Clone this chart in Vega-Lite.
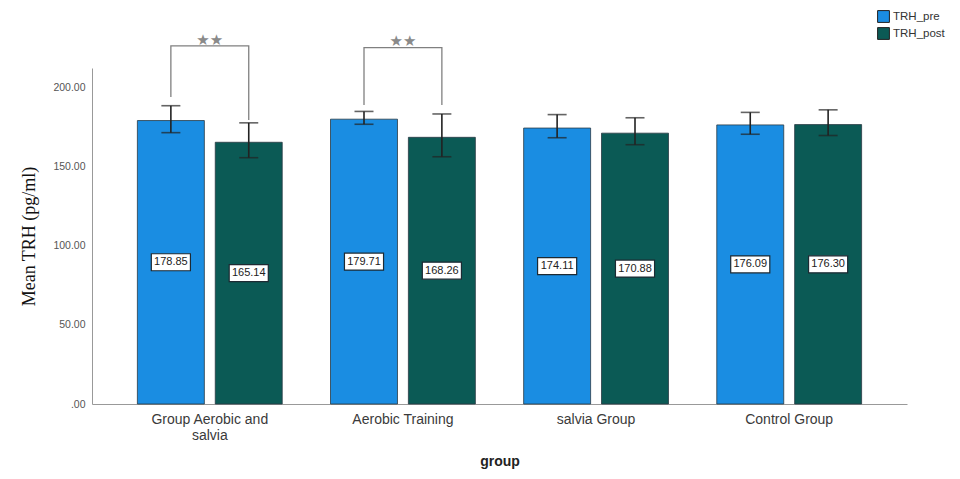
{
  "$schema": "https://vega.github.io/schema/vega-lite/v6.json",
  "width": 815,
  "height": 336,
  "autosize": "none",
  "padding": {"left": 92, "top": 68, "right": 53, "bottom": 75},
  "background": "white",
  "config": {"view": {"stroke": null}, "font": "Liberation Sans"},
  "datasets": {
    "bars": [
      {"group": "Group Aerobic and salvia", "series": "TRH_pre", "mean": 178.85, "lo": 171.2, "hi": 188.2},
      {"group": "Group Aerobic and salvia", "series": "TRH_post", "mean": 165.14, "lo": 155.4, "hi": 177.4},
      {"group": "Aerobic Training", "series": "TRH_pre", "mean": 179.71, "lo": 176.5, "hi": 184.6},
      {"group": "Aerobic Training", "series": "TRH_post", "mean": 168.26, "lo": 156.0, "hi": 183.0},
      {"group": "salvia Group", "series": "TRH_pre", "mean": 174.11, "lo": 168.0, "hi": 182.6},
      {"group": "salvia Group", "series": "TRH_post", "mean": 170.88, "lo": 163.6, "hi": 180.6},
      {"group": "Control Group", "series": "TRH_pre", "mean": 176.09, "lo": 170.2, "hi": 184.0},
      {"group": "Control Group", "series": "TRH_post", "mean": 176.3, "lo": 169.4, "hi": 185.6}
    ],
    "brackets": [
      {"id": "b1", "group": "Group Aerobic and salvia", "series": "TRH_pre", "val": 193.7, "ord": 1},
      {"id": "b1", "group": "Group Aerobic and salvia", "series": "TRH_pre", "val": 225.9, "ord": 2},
      {"id": "b1", "group": "Group Aerobic and salvia", "series": "TRH_post", "val": 225.9, "ord": 3},
      {"id": "b1", "group": "Group Aerobic and salvia", "series": "TRH_post", "val": 179.2, "ord": 4},
      {"id": "b2", "group": "Aerobic Training", "series": "TRH_pre", "val": 188.6, "ord": 1},
      {"id": "b2", "group": "Aerobic Training", "series": "TRH_pre", "val": 224.8, "ord": 2},
      {"id": "b2", "group": "Aerobic Training", "series": "TRH_post", "val": 224.8, "ord": 3},
      {"id": "b2", "group": "Aerobic Training", "series": "TRH_post", "val": 188.6, "ord": 4}
    ],
    "stars": [
      {"group": "Group Aerobic and salvia", "val": 229.8, "sig": "★★"},
      {"group": "Aerobic Training", "val": 228.8, "sig": "★★"}
    ]
  },
  "encoding": {
    "x": {
      "field": "group", "type": "nominal",
      "sort": ["Group Aerobic and salvia", "Aerobic Training", "salvia Group", "Control Group"],
      "scale": {"paddingInner": 0.25, "paddingOuter": 0.235},
      "axis": {
        "title": "group", "labelAngle": 0, "ticks": false,
        "domainColor": "#999", "labelColor": "#3a3a3a", "labelFontSize": 14,
        "labelPadding": 8, "labelFont": "Liberation Sans",
        "labelExpr": "datum.label == 'Group Aerobic and salvia' ? ['Group Aerobic and', 'salvia'] : datum.label",
        "titleFontSize": 14, "titleFontWeight": "bold", "titleColor": "#222", "titlePadding": 12,
        "titleFont": "Liberation Sans"
      }
    },
    "y": {
      "type": "quantitative",
      "scale": {"domain": [0, 212], "nice": false, "zero": true},
      "axis": {
        "title": "Mean TRH (pg/ml)", "values": [0, 50, 100, 150, 200], "grid": false, "ticks": false,
        "domainColor": "#999", "labelColor": "#555", "labelFontSize": 10.5, "labelPadding": 7,
        "labelExpr": "datum.value == 0 ? '.00' : format(datum.value, '.2f')",
        "titleFont": "Liberation Serif", "titleFontSize": 18, "titleFontWeight": "normal",
        "titleColor": "#111", "titlePadding": 14
      }
    }
  },
  "layer": [
    {
      "data": {"name": "bars"},
      "mark": {"type": "bar", "stroke": "#2a3a44", "strokeWidth": 0.8},
      "encoding": {
        "xOffset": {"field": "series", "type": "nominal", "sort": ["TRH_pre", "TRH_post"], "scale": {"paddingInner": 0.14, "paddingOuter": 0}},
        "y": {"field": "mean", "type": "quantitative"},
        "color": {
          "field": "series", "type": "nominal",
          "scale": {"domain": ["TRH_pre", "TRH_post"], "range": ["#1A8DE2", "#0B5A55"]},
          "legend": {
            "title": null, "orient": "none", "legendX": 785, "legendY": -58,
            "symbolType": "square", "symbolSize": 140, "symbolStrokeColor": "#222", "symbolStrokeWidth": 1,
            "labelFontSize": 11.5, "labelColor": "#333", "rowPadding": 0, "symbolOpacity": 1, "labelOffset": 3
          }
        }
      }
    },
    {
      "data": {"name": "bars"},
      "mark": {"type": "rule", "color": "#222", "strokeWidth": 1.6},
      "encoding": {
        "xOffset": {"field": "series", "type": "nominal", "sort": ["TRH_pre", "TRH_post"], "scale": {"paddingInner": 0.14, "paddingOuter": 0}},
        "y": {"field": "lo", "type": "quantitative"},
        "y2": {"field": "hi"}
      }
    },
    {
      "data": {"name": "bars"},
      "mark": {"type": "tick", "color": "#222", "size": 19, "thickness": 1.6},
      "encoding": {
        "xOffset": {"field": "series", "type": "nominal", "sort": ["TRH_pre", "TRH_post"], "scale": {"paddingInner": 0.14, "paddingOuter": 0}},
        "y": {"field": "lo", "type": "quantitative"}
      }
    },
    {
      "data": {"name": "bars"},
      "mark": {"type": "tick", "color": "#222", "size": 19, "thickness": 1.6},
      "encoding": {
        "xOffset": {"field": "series", "type": "nominal", "sort": ["TRH_pre", "TRH_post"], "scale": {"paddingInner": 0.14, "paddingOuter": 0}},
        "y": {"field": "hi", "type": "quantitative"}
      }
    },
    {
      "data": {"name": "bars"},
      "transform": [{"calculate": "datum.mean / 2", "as": "mid"}],
      "mark": {"type": "point", "shape": "M-2.3,-1 L2.3,-1 L2.3,1 L-2.3,1 Z", "size": 289, "filled": true, "fill": "white", "stroke": "#1d2a33", "strokeWidth": 1.2, "opacity": 1},
      "encoding": {
        "xOffset": {"field": "series", "type": "nominal", "sort": ["TRH_pre", "TRH_post"], "scale": {"paddingInner": 0.14, "paddingOuter": 0}},
        "y": {"field": "mid", "type": "quantitative"}
      }
    },
    {
      "data": {"name": "bars"},
      "transform": [{"calculate": "datum.mean / 2", "as": "mid"}],
      "mark": {"type": "text", "fontSize": 11, "color": "#222", "baseline": "middle", "align": "center"},
      "encoding": {
        "xOffset": {"field": "series", "type": "nominal", "sort": ["TRH_pre", "TRH_post"], "scale": {"paddingInner": 0.14, "paddingOuter": 0}},
        "y": {"field": "mid", "type": "quantitative"},
        "text": {"field": "mean", "type": "quantitative", "format": ".2f"}
      }
    },
    {
      "data": {"name": "brackets"},
      "mark": {"type": "line", "color": "#808080", "strokeWidth": 1.3, "interpolate": "linear"},
      "encoding": {
        "xOffset": {"field": "series", "type": "nominal", "sort": ["TRH_pre", "TRH_post"], "scale": {"paddingInner": 0.14, "paddingOuter": 0}},
        "y": {"field": "val", "type": "quantitative"},
        "detail": {"field": "id"},
        "order": {"field": "ord", "type": "quantitative"}
      }
    },
    {
      "data": {"name": "stars"},
      "mark": {"type": "text", "fontSize": 15, "color": "#8a8a8a", "baseline": "middle", "font": "DejaVu Sans", "letterSpacing": 3},
      "encoding": {
        "y": {"field": "val", "type": "quantitative"},
        "text": {"field": "sig"}
      }
    }
  ]
}
